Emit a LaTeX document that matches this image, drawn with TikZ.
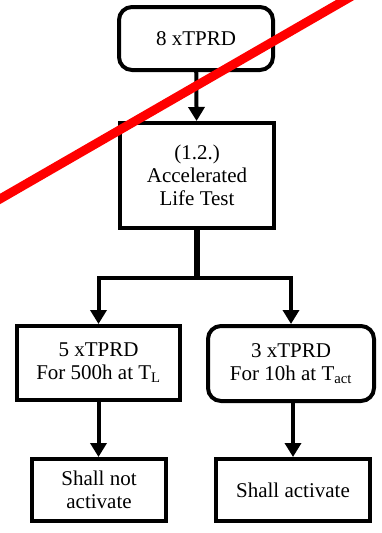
\documentclass[tikz,border=0pt]{standalone}
\usepackage{fontspec}
\setmainfont{Liberation Serif}
\usetikzlibrary{arrows.meta}
\tikzset{
	tbox/.style={draw, fill=white, line width=4pt, align=center, inner sep=0pt, font=\fontsize{21}{23}\selectfont},
	rbox/.style={tbox, rounded corners=13pt},
	arr/.style={line width=4pt, -{Triangle[width=16pt,length=14pt]}},
}
\begin{document}
\begin{tikzpicture}[x=1pt,y=-1pt]
	\useasboundingbox (0,0) rectangle (382,533);
	\clip (0,0) rectangle (382,533);
	\node[rbox, minimum width=154pt, minimum height=63pt] (T8) at (196,38.5) {8 xTPRD};
	\node[tbox, minimum width=154pt, minimum height=105pt] (LT) at (197,175.5) {(1.2.)\\Accelerated\\Life Test};
	\node[tbox, minimum width=163pt, minimum height=74pt] (T5) at (98.5,363) {5 xTPRD\\For 500h at T\textsubscript{L}};
	\node[rbox, minimum width=166pt, minimum height=75pt] (T3) at (291,363.5) {3 xTPRD\\For 10h at T\textsubscript{act}};
	\node[tbox, minimum width=134pt, minimum height=62pt] (SN) at (99,490) {Shall not\\activate};
	\node[tbox, minimum width=154pt, minimum height=62pt] (SA) at (293,490) {Shall activate};
	\coordinate (split) at ([yshift=-48pt]LT.south);
	\draw[arr] (T8) -- (LT);
	\draw[line width=6pt] (LT.south) -- ([yshift=-2pt]split);
	\draw[arr] (split) -| (T5.north);
	\draw[arr] (split) -| (T3.north);
	\draw[arr] (T5.south) -- (T5.south |- SN.north);
	\draw[arr] (SA.north |- T3.south) -- (SA.north);
	\draw[red, line width=9pt] (-20,210.5) -- (365,-11.5);
\end{tikzpicture}
\end{document}
